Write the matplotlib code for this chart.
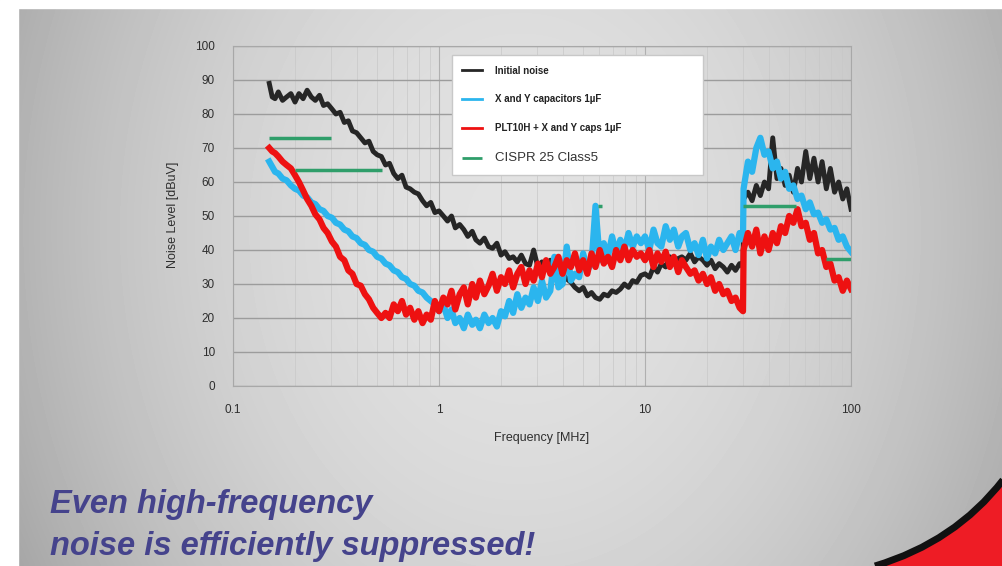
import numpy as np
import matplotlib.pyplot as plt
from matplotlib.path import Path
from matplotlib.patches import PathPatch, Rectangle

plt.rcParams['font.family'] = ['Liberation Sans', 'DejaVu Sans']

# frequency points [MHz]
freq = [0.15, 0.155, 0.16, 0.166, 0.174, 0.182, 0.191, 0.200, 0.209, 0.219,
        0.229, 0.240, 0.251, 0.263, 0.275, 0.288, 0.302, 0.316, 0.331, 0.347,
        0.363, 0.380, 0.398, 0.417, 0.437, 0.457, 0.479, 0.501, 0.525, 0.550,
        0.575, 0.603, 0.631, 0.661, 0.692, 0.724, 0.759, 0.794, 0.832, 0.871,
        0.912, 0.955,
        1.00, 1.05, 1.10, 1.15, 1.20, 1.26, 1.32, 1.38, 1.45, 1.51,
        1.58, 1.66, 1.74, 1.82, 1.91, 2.00, 2.09, 2.19, 2.29, 2.40,
        2.51, 2.63, 2.75, 2.88, 3.02, 3.16, 3.31, 3.47, 3.63, 3.80,
        3.98, 4.17, 4.37, 4.57, 4.79, 5.01, 5.25, 5.50, 5.75, 6.03,
        6.31, 6.61, 6.92, 7.24, 7.59, 7.94, 8.32, 8.71, 9.12, 9.55,
        10.0, 10.5, 11.0, 11.5, 12.0, 12.6, 13.2, 13.8, 14.5, 15.1,
        15.8, 16.6, 17.4, 18.2, 19.1, 20.0, 20.9, 21.9, 22.9, 24.0,
        25.1, 26.3, 27.5, 28.8, 29.9,
        30.1, 31.6, 33.1, 34.7, 36.3, 38.0, 39.8, 41.7, 43.7, 45.7,
        47.9, 50.1, 52.5, 55.0, 57.5, 60.3, 63.1, 66.1, 69.2, 72.4,
        75.9, 79.4, 83.2, 87.1, 91.2, 95.5, 100.0]

# noise levels [dBuV]
initial_noise = [89, 85, 84.5, 86.5, 84, 85, 86, 83.5, 86, 84.5,
                 87, 85, 84, 85.5, 82.5, 83, 81.5, 80, 80.5, 77.5,
                 78, 75, 74.5, 73, 71.5, 72, 69, 68, 67.5, 65,
                 65.5, 62.5, 61, 62, 58.5, 58, 57, 56.5, 54.5, 53,
                 54, 51,
                 51.5, 50, 48.5, 50, 46.5, 47.5, 46, 44, 45.5, 43,
                 42, 43.5, 41, 40.5, 42, 38.5, 39.5, 37.5, 38, 36.5,
                 38.5, 36, 35.5, 40, 35, 36.5, 34.5, 37, 35, 34,
                 33, 31.5, 30.5, 29, 28, 29, 26.5, 27.5, 26, 25.5,
                 27, 26.5, 28, 27.5, 28.5, 30, 29, 31, 30.5, 32.5,
                 33, 32, 35, 33.5, 36, 35, 38, 36.5, 37.5, 38,
                 37, 39, 36.5, 38, 37, 35.5, 37, 34.5, 36, 35,
                 33.5, 35.5, 34, 36, 35,
                 55, 57, 54.5, 59, 56, 60, 58, 73, 61, 64,
                 59, 62, 57, 64, 60, 69, 61, 67, 60, 66,
                 58, 64, 57, 60, 55, 58, 52]

xy_caps = [66, 64.5, 63, 62.5, 61, 60.5, 59, 58, 57.5, 56,
           55.5, 54, 53.5, 52, 51.5, 50, 49.5, 48, 47.5, 46,
           45.5, 44, 43.5, 42, 41.5, 40, 39.5, 38, 37.5, 36,
           35.5, 34, 33.5, 32, 31.5, 30, 29.5, 28, 27.5, 26,
           25, 24,
           22, 24, 20, 22.5, 18.5, 20, 17, 21, 18, 19.5,
           17, 21, 18.5, 20, 17.5, 22, 20.5, 25, 21.5, 27,
           23, 26, 24, 29, 25, 31, 26, 28, 38, 29,
           30, 41, 31, 33, 32, 39, 34, 36, 53, 37,
           42, 38, 44, 39, 43, 40, 45, 41, 44, 42,
           44, 40, 46, 42, 41, 47, 43, 46, 41, 44,
           45, 40, 42, 38.5, 43, 37.5, 41, 39, 43, 40,
           42, 44, 40, 45, 43,
           58, 66, 63, 70, 73, 68, 69, 64, 66, 61,
           63, 58, 59, 55, 56, 52, 54, 50.5, 51, 48,
           49, 46, 46.5, 43, 44, 41, 39.5]

plt10h_caps = [70, 69, 68.5, 67.5, 66, 65, 64, 62, 60, 57.5,
               55, 53, 50.5, 49, 46.5, 45, 42.5, 41, 38, 37,
               34, 33, 30, 29.5, 27, 25.5, 23, 21.5, 20, 21.5,
               20, 24, 22, 25, 21, 23, 19.5, 22, 18.5, 21,
               19.5, 25,
               22, 26, 24, 28, 22.5, 27, 29, 24, 30, 26,
               31, 27, 29.5, 33, 28, 32, 30, 34, 29, 33,
               35, 30, 34, 31, 36, 32, 37, 33, 35, 38,
               33, 37, 35, 39, 34, 37, 33, 39, 35, 40,
               36, 38, 35, 40, 37, 41, 37, 40, 38, 39,
               37, 40, 35, 39, 36.5, 39.5, 35, 38, 33.5, 37,
               35, 33, 34, 31, 33, 30, 32, 28, 30, 27,
               28, 25, 26, 23, 22,
               40, 45, 41, 46, 39, 44, 40, 45, 42, 47,
               45, 50, 48, 52, 47, 48, 43, 45, 39, 40,
               35, 36, 31, 32, 28, 31, 28.5]

# CISPR 25 class 5 limit segments
cispr_start = [0.15, 0.2, 5.9, 30, 76]
cispr_stop = [0.3, 0.53, 6.2, 54, 100]
cispr_level = [73, 63.5, 53, 53, 37.5]

W, H = 1003, 566
fig = plt.figure(figsize=(W / 100, H / 100), dpi=100)

# slide background
bg = fig.add_axes([0, 0, 1, 1])
bg.set_xlim(0, W)
bg.set_ylim(H, 0)
bg.axis('off')
yy, xx = np.mgrid[0:H, 0:W]
shade = 0.885 - 0.18 * ((xx - 520) / 500) ** 2 - 0.05 * ((yy - 230) / 330) ** 2
bg.imshow(shade, cmap='gray', vmin=0, vmax=1, extent=(0, W, H, 0), aspect='auto')
bg.add_patch(Rectangle((0, 0), W, 8, color='white'))
bg.add_patch(Rectangle((0, 0), 18, H, color='white'))
swoosh = Path([(875, 566), (955, 542), (1003, 480), (1003, 566), (875, 566)],
              [Path.MOVETO, Path.CURVE3, Path.CURVE3, Path.LINETO, Path.CLOSEPOLY])
bg.add_patch(PathPatch(swoosh, facecolor='#ee1c25', edgecolor='none'))
edge = Path([(875, 566), (955, 542), (1003, 480)], [Path.MOVETO, Path.CURVE3, Path.CURVE3])
bg.add_patch(PathPatch(edge, facecolor='none', edgecolor='#111111', lw=5))

slogan = dict(fontsize=23.5, fontstyle='italic', fontweight='bold', color='#45438c')
bg.text(50, 513, 'Even high-frequency', va='baseline', **slogan)
bg.text(50, 555, 'noise is efficiently suppressed!', va='baseline', **slogan)

# chart
ax = fig.add_axes([233 / W, 1 - 386 / H, 618 / W, 340 / H])
ax.set_facecolor('none')
ax.set_xscale('log')
ax.set_xlim(0.1, 100)
ax.set_ylim(0, 100)
ax.set_yticks(range(0, 101, 10))
ax.set_xticks([0.1, 1, 10, 100])
ax.set_xticklabels(['0.1', '1', '10', '100'])
ax.tick_params(which='both', length=0, labelsize=8.5, labelcolor='#2e2e2e', pad=13)
ax.grid(axis='y', color='#9c9c9c', lw=1)
ax.grid(axis='x', which='major', color='#b0b0b0', lw=0.8)
ax.grid(axis='x', which='minor', color='#c8c8c8', lw=0.5)
for s in ax.spines.values():
    s.set_color('#a8a8a8')

ax.plot(freq, initial_noise, color='#262626', lw=3.5, label='Initial noise')
ax.plot(freq, xy_caps, color='#2bb5ee', lw=4.5, label='X and Y capacitors 1µF')
ax.plot(freq, plt10h_caps, color='#ee1111', lw=4.5, label='PLT10H + X and Y caps 1µF')
ax.hlines(cispr_level, cispr_start, cispr_stop, colors='#2f9e6a', lw=2.5,
          label='CISPR 25 Class5')

ax.set_xlabel('Frequency [MHz]', fontsize=9, color='#2e2e2e')
ax.xaxis.set_label_coords(0.5, (386 - 438) / 340)
ax.xaxis.label.set_va('center')
ax.set_ylabel('Noise Level [dBuV]', fontsize=9, color='#2e2e2e')
ax.yaxis.set_label_coords((173 - 233) / 618, 0.503)
ax.yaxis.label.set_va('center')

leg = ax.legend(loc='upper left', bbox_to_anchor=(0.354, 0.62, 0.407, 0.354),
                mode='expand', fancybox=False, edgecolor='#c8c8c8', facecolor='white',
                framealpha=1, fontsize=7, labelspacing=1.95, handlelength=2.0,
                handletextpad=1.3, borderpad=1.1, borderaxespad=0)
for line in leg.get_lines():
    line.set_linewidth(2)
for t in leg.get_texts()[:3]:
    t.set_fontweight('bold')
    t.set_color('#222222')
leg.get_texts()[3].set_fontsize(9.5)
leg.get_texts()[3].set_color('#333333')

fig.savefig('out.png', dpi=100)
